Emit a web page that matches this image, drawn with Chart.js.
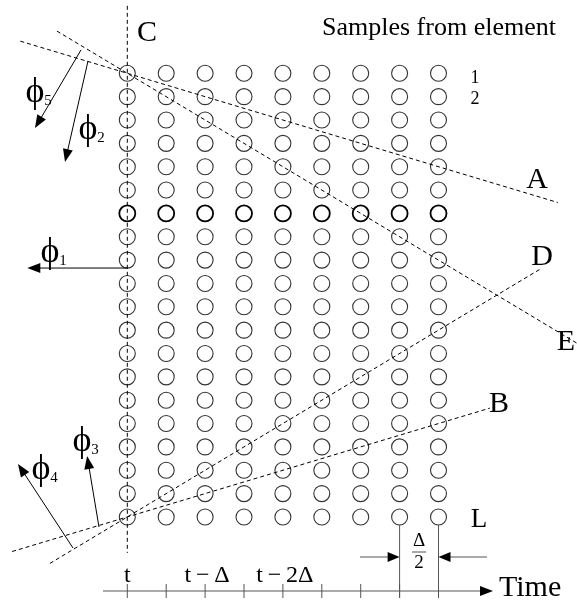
<!DOCTYPE html>
<html><head><meta charset="utf-8">
<script src="https://cdn.jsdelivr.net/npm/chart.js@4/dist/chart.umd.min.js"></script>
<style>html,body{margin:0;padding:0;background:#fff}#wrap{width:577px;height:605px;position:relative}</style>
</head><body><div id="wrap"><canvas id="c"></canvas></div>
<script>
// ---- data ----
const timeSteps = [0, 1, 2, 3, 4, 5, 6, 7, 8];          // columns (t, t-Δ/2, t-Δ, ...)
const elements = [1,2,3,4,5,6,7,8,9,10,11,12,13,14,15,16,17,18,19,20]; // rows
const boldElement = 7;
const tickLabels = ['t', '', 't\u2009\u2212\u2009\u0394', '', 't\u2009\u2212\u20092\u0394', '', '', '', ''];
// dashed delay lines: anchor time, anchor element, slope (elements per step), extent (time)
const lineNames  = ['A', 'E', 'D', 'B'];
const lineAnchorT = [0, 0, 0, 0];
const lineAnchorE = [1, 1, 20, 20];
const lineSlopes  = [0.5, 1, -1, -0.5];
const lineFrom    = [-2.75, -1.81, -1.99, -2.96];
const lineTo      = [11.07, 11.56, 10.6, 9.32];
const vertLineC   = [-1.89, 21.54];   // element extent of the vertical line C at t
// direction vectors phi: start (time, element) and tip (time, element)
const phiNames  = ['5', '2', '1', '3', '4'];
const phiStartT = [-1.19, -1.01, 0, -0.728, -1.396];
const phiStartE = [0.0, 0.473, 9.34, 20.43, 21.33];
const phiTipT   = [-2.373, -1.601, -2.57, -1.033, -2.81];
const phiTipE   = [3.347, 4.799, 9.34, 17.39, 17.73];

// ---- build datasets ----
const gridPts = [];
elements.forEach(e => timeSteps.forEach(t => gridPts.push({x: t, y: e})));
const datasets = [{
  type: 'scatter', data: gridPts, pointStyle: 'circle', pointRadius: 8, pointHoverRadius: 8,
  backgroundColor: 'rgba(0,0,0,0)', borderColor: ctx => ctx.raw && ctx.raw.y === boldElement ? '#000' : '#333',
  borderWidth: ctx => ctx.raw && ctx.raw.y === boldElement ? 1.8 : 1.1, clip: false, order: 2
}];
lineNames.forEach((n, i) => {
  const f = t => lineAnchorE[i] + lineSlopes[i] * (t - lineAnchorT[i]);
  datasets.push({type: 'line', label: n, data: [{x: lineFrom[i], y: f(lineFrom[i])}, {x: lineTo[i], y: f(lineTo[i])}],
    borderColor: '#000', borderWidth: 1, borderDash: [4, 3], pointRadius: 0, fill: false, clip: false, order: 1});
});
datasets.push({type: 'line', label: 'C', data: [{x: 0, y: vertLineC[0]}, {x: 0, y: vertLineC[1]}],
  borderColor: '#000', borderWidth: 1, borderDash: [4, 3], pointRadius: 0, fill: false, clip: false, order: 1});

const SERIF = "'Liberation Serif','Times New Roman',serif";

function arrow(ctx, x1, y1, x2, y2, len, hw) {
  const a = Math.atan2(y2 - y1, x2 - x1);
  ctx.beginPath(); ctx.moveTo(x1, y1);
  ctx.lineTo(x2 - Math.cos(a) * len * 0.8, y2 - Math.sin(a) * len * 0.8); ctx.stroke();
  ctx.beginPath(); ctx.moveTo(x2, y2);
  ctx.lineTo(x2 - Math.cos(a) * len + Math.sin(a) * hw, y2 - Math.sin(a) * len - Math.cos(a) * hw);
  ctx.lineTo(x2 - Math.cos(a) * len - Math.sin(a) * hw, y2 - Math.sin(a) * len + Math.cos(a) * hw);
  ctx.closePath(); ctx.fill();
}
function txt(ctx, s, x, y, size, align, base) {
  ctx.font = size + 'px ' + SERIF; ctx.textAlign = align || 'center'; ctx.textBaseline = base || 'alphabetic';
  ctx.fillText(s, x, y);
}

const annot = {
  id: 'annot',
  afterDatasetsDraw(chart) {
    const ctx = chart.ctx, xs = chart.scales.x, ys = chart.scales.y;
    const X = v => xs.getPixelForValue(v), Y = v => ys.getPixelForValue(v);
    ctx.save();
    ctx.strokeStyle = '#000'; ctx.fillStyle = '#000'; ctx.lineWidth = 1;
    // phi arrows
    phiNames.forEach((n, i) => arrow(ctx, X(phiStartT[i]), Y(phiStartE[i]), X(phiTipT[i]), Y(phiTipE[i]), 13, 5));
    // phi labels
    const phiLab = {'5': [35, 93], '2': [88, 130], '1': [50, 253], '3': [82, 442], '4': [41, 470]};
    Object.keys(phiLab).forEach(k => {
      const p = phiLab[k];
      txt(ctx, '\u03D5', p[0], p[1], 36, 'center', 'middle');
      txt(ctx, k, p[0] + 13, p[1] + 8, 15, 'center', 'middle');
    });
    // time axis
    const ay = 591;
    ctx.strokeStyle = '#555';
    arrow(ctx, 103, ay, 493, ay, 13, 5);
    timeSteps.forEach((t, i) => {
      ctx.beginPath(); ctx.moveTo(X(t), 584); ctx.lineTo(X(t), 598); ctx.stroke();
      if (tickLabels[i]) txt(ctx, tickLabels[i], X(t) + (i ? 2 : 0), 582, 24, 'center');
    });
    txt(ctx, 'Time', 499, 596, 30, 'left');
    // Δ/2 dimension between last two columns
    const c7 = X(timeSteps[7]), c8 = X(timeSteps[8]);
    ctx.beginPath(); ctx.moveTo(c7, Y(20) + 8); ctx.lineTo(c7, 598); ctx.moveTo(c8, Y(20) + 8); ctx.lineTo(c8, 598); ctx.stroke();
    ctx.fillStyle = '#000';
    arrow(ctx, 360, 557, c7, 557, 12, 5);
    arrow(ctx, 487, 557, c8, 557, 12, 5);
    const cm = (c7 + c8) / 2;
    txt(ctx, '\u0394', cm, 546, 19, 'center');
    ctx.beginPath(); ctx.moveTo(cm - 7, 552); ctx.lineTo(cm + 7, 552); ctx.stroke();
    txt(ctx, '2', cm, 568, 19, 'center');
    // labels
    txt(ctx, 'C', 147, 41, 30, 'center');
    txt(ctx, 'A', 537, 188, 30, 'center');
    txt(ctx, 'D', 542, 265, 30, 'center');
    txt(ctx, 'E', 566, 350, 30, 'center');
    txt(ctx, 'B', 499, 412, 30, 'center');
    txt(ctx, 'L', 479, 527, 27, 'center');
    txt(ctx, '1', 475, Y(elements[0]) + 10, 18, 'center');
    txt(ctx, '2', 475, Y(elements[1]) + 7, 18, 'center');
    txt(ctx, 'Samples from element', 322, 35, 26, 'left');
    ctx.restore();
  }
};

new Chart(document.getElementById('c'), {
  data: {datasets},
  options: {
    responsive: true, maintainAspectRatio: false, animation: false,
    layout: {padding: 0, autoPadding: false},
    plugins: {legend: {display: false}, tooltip: {enabled: false}},
    scales: {
      x: {type: 'linear', display: false, min: -127.3 / 38.9, max: (577 - 127.3) / 38.9},
      y: {type: 'linear', display: false, reverse: true, min: 1 - 73.3 / 23.35, max: 1 + (605 - 73.3) / 23.35}
    }
  },
  plugins: [annot]
});
</script></body></html>
